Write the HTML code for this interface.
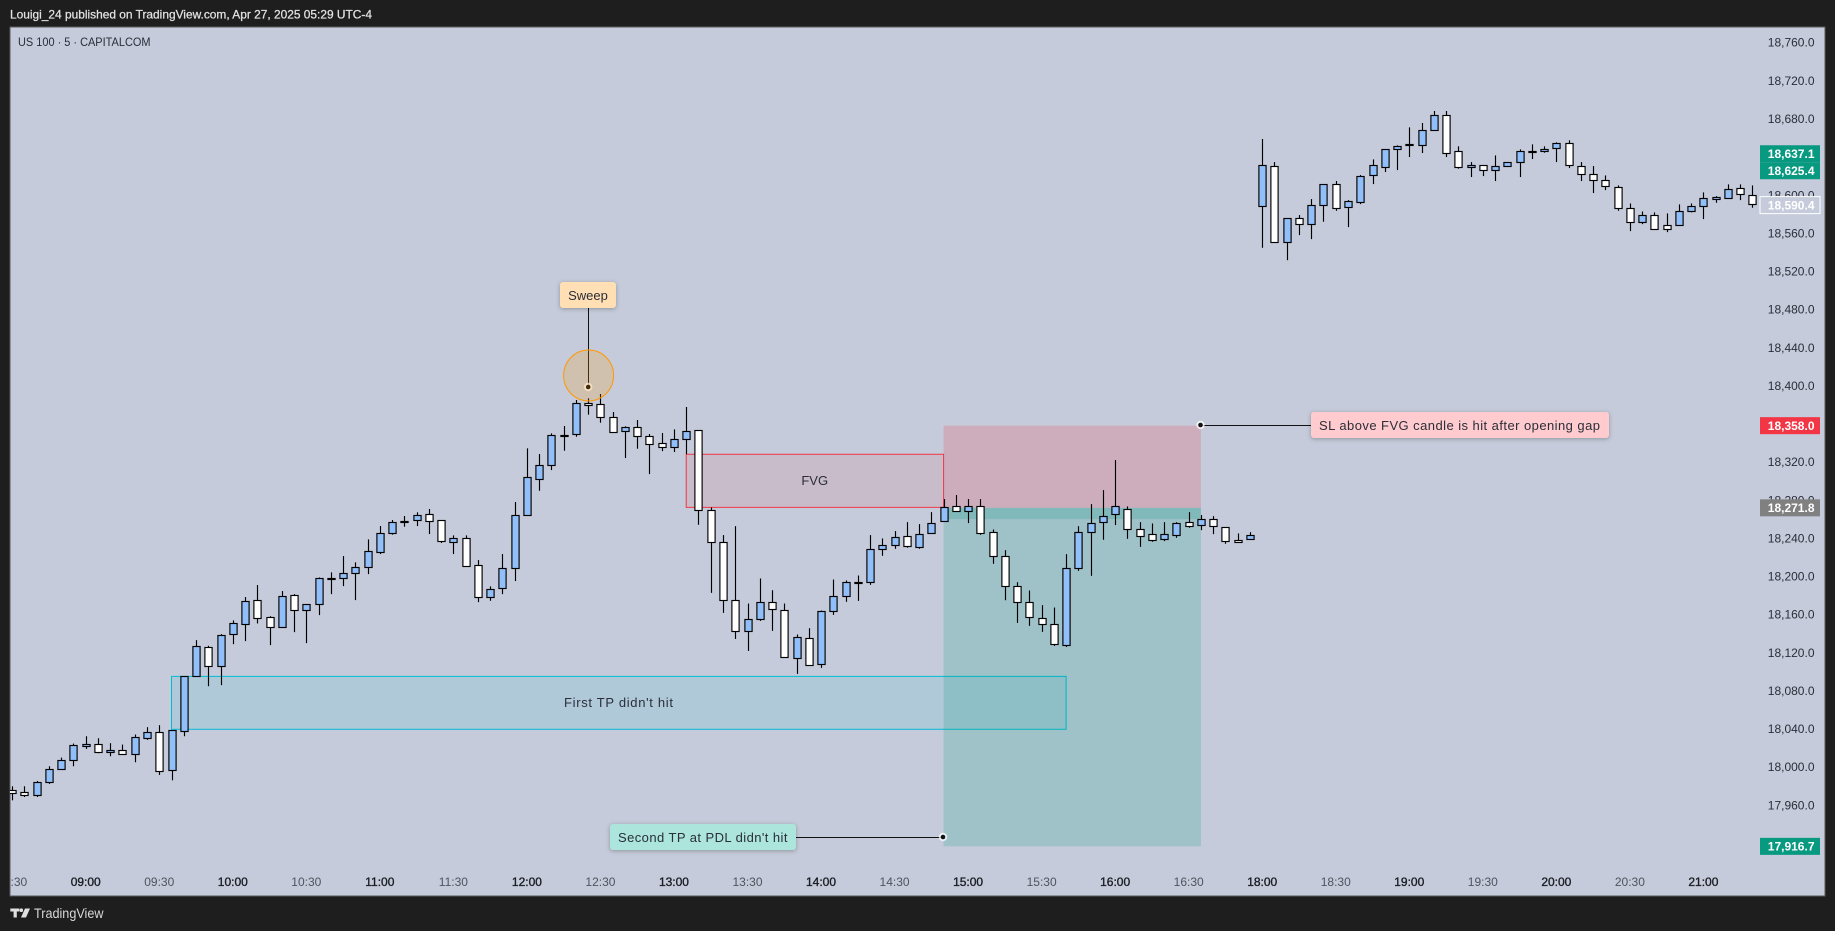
<!DOCTYPE html>
<html lang="en">
<head>
<meta charset="utf-8">
<title>US 100 5m chart</title>
<style>
  html,body{margin:0;padding:0;background:#1e1e1e;width:1835px;height:931px;overflow:hidden}
  svg{display:block}
  text{font-family:"Liberation Sans",sans-serif}
  .shadow{filter:drop-shadow(0 1px 2px rgba(0,0,0,.28))}
</style>
</head>
<body>
<svg id="chart" xmlns="http://www.w3.org/2000/svg" width="1835" height="931" viewBox="0 0 1835 931">
  <defs>
    <clipPath id="paneClip"><rect x="10" y="27" width="1815" height="869"></rect></clipPath>
  </defs>
  <rect x="0" y="0" width="1835" height="931" fill="#1e1e1e"></rect>
  <text x="10" y="18.5" font-size="12" fill="#e2e2e2" stroke="#e2e2e2" stroke-width=".25" textLength="362" lengthAdjust="spacingAndGlyphs">Louigi_24 published on TradingView.com, Apr 27, 2025 05:29 UTC-4</text>
  <rect x="10" y="27" width="1815" height="869" fill="#c5cbda" stroke="#5a5a5a" stroke-width="1"></rect>
  <text x="18" y="46" font-size="12" fill="#2a2e39" textLength="132.5" lengthAdjust="spacingAndGlyphs">US 100 · 5 · CAPITALCOM</text>

  <g id="zones" clip-path="url(#paneClip)"></g>
  <g id="candles" clip-path="url(#paneClip)"></g>

  <g>
    <text x="814.7" y="485" font-size="13" fill="#2a2e39" text-anchor="middle">FVG</text>
    <text x="618.5" y="707" font-size="13" fill="#2a2e39" text-anchor="middle" textLength="109" lengthAdjust="spacing">First TP didn't hit</text>
  </g>

  <g>
    <line x1="588.5" y1="308" x2="588.5" y2="387" stroke="#111" stroke-width="1"></line>
    <circle cx="588.2" cy="387" r="4.2" fill="#fff" fill-opacity=".75"></circle>
    <circle cx="588.2" cy="387" r="2.3" fill="#111"></circle>
    <g class="shadow">
      <rect x="560" y="282" width="56" height="26" rx="3" fill="#ffdfb3"></rect>
      <text x="588" y="300" font-size="13" fill="#2a2e39" text-anchor="middle">Sweep</text>
    </g>
  </g>

  <g>
    <line x1="1200.5" y1="425.5" x2="1311" y2="425.5" stroke="#111" stroke-width="1"></line>
    <circle cx="1200.5" cy="425" r="4.2" fill="#fff" fill-opacity=".75"></circle>
    <circle cx="1200.5" cy="425" r="2.3" fill="#111"></circle>
    <g class="shadow">
      <rect x="1311" y="412" width="298" height="26" rx="3" fill="#ffcbce"></rect>
      <text x="1319" y="430" font-size="13" fill="#2a2e39" textLength="281" lengthAdjust="spacing">SL above FVG candle is hit after opening gap</text>
    </g>
  </g>

  <g>
    <line x1="796" y1="837.5" x2="943" y2="837.5" stroke="#111" stroke-width="1"></line>
    <circle cx="943" cy="837" r="4.2" fill="#fff" fill-opacity=".75"></circle>
    <circle cx="943" cy="837" r="2.3" fill="#111"></circle>
    <g class="shadow">
      <rect x="610" y="824" width="186" height="26" rx="3" fill="#ace5dc"></rect>
      <text x="618" y="842" font-size="13" fill="#2a2e39" textLength="169.5" lengthAdjust="spacing">Second TP at PDL didn't hit</text>
    </g>
  </g>
  <ellipse cx="588.6" cy="375.5" rx="25" ry="25.5" fill="#ff9800" fill-opacity=".2" stroke="#ff9800" stroke-width="1"></ellipse>

  <g id="priceAxis"></g>
  <g id="timeAxis" clip-path="url(#paneClip)"></g>
  <g id="priceTags"></g>

  <g>
    <g fill="#e0e0e0">
      <rect x="10.3" y="908.5" width="9" height="3"></rect>
      <rect x="13.6" y="908.5" width="3.2" height="9"></rect>
      <circle cx="21.3" cy="910.2" r="1.8"></circle>
      <polygon points="25,908.5 30,908.5 26,917.5 21,917.5"></polygon>
    </g>
    <text x="34" y="918" font-size="14" fill="#d8d8d8" textLength="69.5" lengthAdjust="spacingAndGlyphs">TradingView</text>
  </g>

<script>
// ---- Series values (price units), one entry per 5-minute bar ----
const opens = [
17976.2,17974.1,17970.6,17984.3,17998.3,18007.7,18022.4,18024.5,18016.1,18018.2,
18013.7,18030.5,18037.1,17997.2,18038.2,18094.9,18125.3,18106.4,18139.0,18149.5,
18174.7,18156.8,18146.3,18179.9,18164.2,18170.5,18197.4,18197.8,18203.0,18209.3,
18225.1,18245.0,18257.3,18258.7,18265.0,18258.7,18236.3,18239.8,18211.4,18177.8,
18187.3,18208.3,18263.8,18302.3,18316.3,18347.5,18348.9,18381.4,18380.4,18366.7,
18352.0,18356.2,18346.8,18339.4,18335.2,18343.6,18353.1,18269.1,18235.5,18174.6,
18143.1,18155.7,18173.5,18165.1,18114.7,18135.7,18108.4,18164.1,18179.8,18193.1,
18193.5,18228.1,18232.3,18241.8,18230.2,18244.9,18257.5,18273.3,18268.0,18273.3,
18246.0,18221.8,18189.3,18173.5,18156.7,18150.4,18128.4,18208.2,18246.0,18256.5,
18264.9,18270.1,18249.1,18243.9,18238.6,18242.8,18256.5,18253.3,18259.6,18251.2,
18237.6,18238.6,18588.0,18630.0,18550.2,18575.4,18569.1,18589.0,18611.1,18586.9,
18592.2,18620.5,18628.9,18647.8,18652.4,18652.0,18667.8,18683.5,18645.7,18628.9,
18631.0,18625.8,18630.0,18634.2,18645.4,18645.7,18648.9,18654.1,18630.0,18621.6,
18615.3,18607.9,18585.9,18571.2,18578.5,18568.0,18568.0,18582.7,18588.0,18595.3,
18596.4,18606.9,18599.5];
const highs = [
17979.7,17979.7,17985.3,18000.7,18009.8,18024.5,18032.2,18030.1,18024.9,18023.5,
18034.0,18041.7,18043.8,18038.5,18094.9,18133.0,18127.1,18139.3,18153.7,18178.2,
18190.8,18158.2,18184.5,18181.3,18170.5,18198.8,18204.1,18221.2,18214.6,18238.7,
18252.7,18259.0,18263.2,18267.1,18270.6,18259.0,18242.9,18242.9,18217.0,18189.4,
18223.3,18277.9,18334.2,18328.2,18349.9,18357.6,18384.9,18386.7,18391.2,18372.3,
18357.3,18363.9,18349.2,18350.3,18354.1,18377.6,18353.1,18272.2,18243.2,18252.6,
18171.4,18197.7,18185.4,18171.4,18138.9,18145.5,18164.1,18196.6,18195.6,18200.8,
18243.2,18239.7,18247.4,18256.8,18254.7,18267.3,18281.0,18285.2,18281.0,18281.0,
18249.1,18227.4,18193.8,18185.1,18169.7,18167.2,18223.2,18252.6,18275.7,18290.4,
18321.9,18273.3,18256.8,18255.4,18256.8,18256.8,18267.3,18264.2,18263.1,18251.2,
18244.9,18246.3,18658.7,18634.5,18575.4,18578.9,18595.7,18611.1,18614.6,18594.6,
18620.9,18637.3,18648.2,18652.0,18670.9,18675.5,18688.1,18688.1,18651.0,18634.5,
18631.0,18641.5,18634.5,18647.8,18653.1,18651.0,18655.2,18657.3,18634.5,18630.3,
18620.5,18610.0,18591.1,18582.7,18581.7,18580.6,18590.1,18591.1,18602.7,18598.8,
18611.1,18611.1,18610.0];
const lows = [
17965.0,17968.5,17968.5,17982.2,17998.3,18000.7,18018.9,18014.4,18011.2,18012.6,
18004.9,18028.4,17991.6,17986.0,18032.2,18094.9,18084.7,18085.8,18128.8,18132.0,
18150.5,18127.8,18146.3,18141.4,18129.9,18159.3,18181.3,18189.7,18175.0,18202.3,
18223.3,18243.6,18252.0,18252.7,18244.3,18234.9,18223.3,18210.0,18172.9,18174.3,
18181.3,18195.0,18263.8,18289.7,18311.4,18331.7,18346.4,18369.5,18361.1,18351.0,
18324.0,18333.8,18307.2,18331.3,18330.3,18328.2,18254.0,18182.6,18161.6,18134.3,
18121.7,18153.2,18142.7,18114.4,18097.6,18107.4,18103.9,18159.5,18173.2,18174.2,
18191.0,18221.5,18228.8,18229.9,18228.8,18244.9,18257.5,18268.0,18255.8,18243.5,
18213.1,18174.9,18151.1,18148.0,18141.7,18127.0,18125.9,18205.7,18200.5,18238.3,
18253.7,18239.3,18230.9,18236.2,18236.9,18240.4,18250.9,18248.4,18244.2,18234.1,
18235.5,18238.6,18544.6,18550.2,18531.6,18557.9,18553.7,18571.9,18583.4,18566.3,
18590.4,18611.4,18624.0,18626.1,18639.8,18644.0,18667.8,18639.8,18627.5,18618.8,
18619.8,18614.6,18629.6,18618.8,18637.7,18644.3,18634.5,18628.2,18614.6,18602.0,
18605.1,18583.4,18562.1,18569.4,18563.8,18561.0,18568.0,18581.7,18574.7,18591.8,
18596.4,18594.6,18586.6];
const closes = [
17972.7,17970.6,17984.6,17998.3,18007.7,18023.5,18024.5,18015.8,18018.2,18013.7,
18031.9,18037.1,17996.2,18038.5,18094.9,18126.4,18106.4,18137.9,18150.5,18173.6,
18155.8,18146.3,18178.9,18164.2,18170.5,18197.8,18197.8,18203.0,18209.3,18226.1,
18245.0,18256.6,18257.6,18263.9,18257.6,18236.6,18239.8,18211.1,18177.8,18186.2,
18208.3,18263.9,18303.7,18316.3,18347.8,18347.8,18381.4,18379.3,18366.7,18351.0,
18356.2,18346.8,18338.4,18335.2,18343.6,18352.0,18269.1,18235.5,18175.6,18143.1,
18155.7,18173.5,18166.2,18115.8,18136.8,18107.4,18164.1,18179.8,18193.5,18193.5,
18228.1,18232.3,18240.7,18231.3,18243.9,18255.4,18272.2,18268.0,18273.3,18244.9,
18221.8,18190.3,18172.5,18157.8,18150.4,18129.4,18209.2,18246.0,18255.4,18262.8,
18273.3,18249.1,18241.8,18237.6,18243.9,18255.4,18252.3,18259.6,18252.3,18236.5,
18235.5,18242.8,18631.0,18550.2,18575.4,18569.1,18589.0,18611.1,18585.9,18593.2,
18619.5,18631.0,18647.8,18651.0,18653.1,18667.8,18683.5,18643.6,18628.9,18631.0,
18625.8,18630.0,18634.2,18645.7,18645.7,18647.8,18654.1,18631.0,18621.6,18615.3,
18609.0,18585.9,18571.2,18578.5,18563.8,18563.8,18582.7,18588.0,18596.4,18597.4,
18605.8,18600.6,18590.4];

// ---- Axis labels ----
const priceTicks = [18760,18720,18680,18640,18600,18560,18520,18480,18440,18400,18360,18320,18280,18240,18200,18160,18120,18080,18040,18000,17960];
const timeLabels = ["08:30","09:00","09:30","10:00","10:30","11:00","11:30","12:00","12:30","13:00","13:30","14:00","14:30","15:00","15:30","16:00","16:30","18:00","18:30","19:00","19:30","20:00","20:30","21:00"];
const barsPerTimeLabel = 6;

// ---- Price levels of drawings and axis tags ----
const stopLevel = 18358.0;
const entryLevel = 18271.8;
const targetLevel = 17916.7;
const entryBandLow = 18260.0;
const fvgZone = [18328.0, 18272.3];
const firstTpZone = [18095.0, 18039.5];
const fvgBars = [55, 76];
const firstTpBars = [13, 86];
const positionBars = [76, 97];
const bidPrice = 18637.1;
const askPrice = 18625.4;
const lastPrice = 18590.4;

// ---- Axis functions ----
function xOf(bar){ return 12.2 + bar * 12.255; }
function yOf(price){ return 118.7 + (18680 - price) * 0.9533; }
function fmt(price){ return price.toLocaleString('en-US',{minimumFractionDigits:1,maximumFractionDigits:1}); }

const NS = 'http://www.w3.org/2000/svg';
function shape(parent, tag, attrs){
  const el = document.createElementNS(NS, tag);
  for (const k in attrs) el.setAttribute(k, attrs[k]);
  parent.appendChild(el);
  return el;
}

// ---- Zones ----
const zones = document.getElementById('zones');
function zoneRect(parent, b0, b1, p0, p1, fill, opacity, stroke){
  const attrs = {x:xOf(b0), y:yOf(p0), width:xOf(b1)-xOf(b0), height:yOf(p1)-yOf(p0), fill:fill, 'fill-opacity':opacity};
  if (stroke){ attrs.stroke = stroke; attrs['stroke-width'] = 1; }
  return shape(parent, 'rect', attrs);
}
let z;
z = zoneRect(zones, firstTpBars[0], firstTpBars[1], firstTpZone[0], firstTpZone[1], '#00bcd4', .1, '#00bcd4');


z = zoneRect(zones, positionBars[0], positionBars[1], stopLevel, entryLevel, '#f23645', .2, null);


z = zoneRect(zones, positionBars[0], positionBars[1], entryLevel, targetLevel, '#089981', .2, null);


z = zoneRect(zones, positionBars[0], positionBars[1], entryLevel, entryBandLow, '#089981', .2, null);


z = zoneRect(zones, fvgBars[0], fvgBars[1], fvgZone[0], fvgZone[1], '#f23645', .1, '#f23645');



// ---- Candles ----
const candleGroup = document.getElementById('candles');
for (let i = 0; i < opens.length; i++){
  const cx = Math.round(xOf(i));
  const top = Math.round(yOf(Math.max(opens[i], closes[i])));
  const bot = Math.round(yOf(Math.min(opens[i], closes[i])));
  const up = closes[i] >= opens[i];
  const g = shape(candleGroup, 'g', {});
  
  
  const wick = shape(g, 'line', {x1:cx+.5, x2:cx+.5, y1:yOf(highs[i]), y2:yOf(lows[i]), stroke:'#000', 'stroke-width':1.15});
  
  
  const body = shape(g, 'rect', {x:cx+.5-3.6, y:top+.5, width:7.2, height:Math.max(bot-top,0), fill:up?'#90bff9':'#ffffff', stroke:'#000', 'stroke-width':1.15});
  
  
}

// ---- Price axis ----
const priceAxis = document.getElementById('priceAxis');
priceTicks.forEach(function(p){
  const t = shape(priceAxis, 'text', {x:1814.5, y:yOf(p)+4.3, 'font-size':12, fill:'#2a2e39', 'text-anchor':'end'});
  t.textContent = fmt(p);
  
  
});

// ---- Time axis ----
const timeAxis = document.getElementById('timeAxis');
timeLabels.forEach(function(label, k){
  const isHour = label.slice(3) === '00';
  const t = shape(timeAxis, 'text', {x:xOf(k*barsPerTimeLabel), y:886, 'font-size':12, fill:isHour?'#1a1c22':'#50535e', stroke:isHour?'#1a1c22':'none', 'stroke-width':isHour?.35:0, 'text-anchor':'middle'});
  t.textContent = label;
  
  
});

// ---- Price tags ----
const priceTagGroup = document.getElementById('priceTags');
function priceTag(value, centerY, fill, stroke){
  const g = shape(priceTagGroup, 'g', {});
  const attrs = {x:1760, y:centerY-8.5, width:60, height:17, fill:fill};
  if (stroke){ attrs.stroke = stroke; attrs['stroke-width'] = 1; }
  shape(g, 'rect', attrs);
  const t = shape(g, 'text', {x:1814.5, y:centerY+4.3, 'font-size':12, 'font-weight':'bold', fill:'#fff', 'text-anchor':'end'});
  t.textContent = fmt(value);
  return g;
}
let tag;
tag = priceTag(bidPrice, yOf(askPrice)-17, '#089981');


tag = priceTag(askPrice, yOf(askPrice), '#089981');


tag = priceTag(lastPrice, yOf(lastPrice)+1, '#c5cbda', '#ffffff');


tag = priceTag(stopLevel, yOf(stopLevel), '#f23645');


tag = priceTag(entryLevel, yOf(entryLevel), '#808080');


tag = priceTag(targetLevel, yOf(targetLevel), '#089981');


</script>
</svg>
</body>
</html>
